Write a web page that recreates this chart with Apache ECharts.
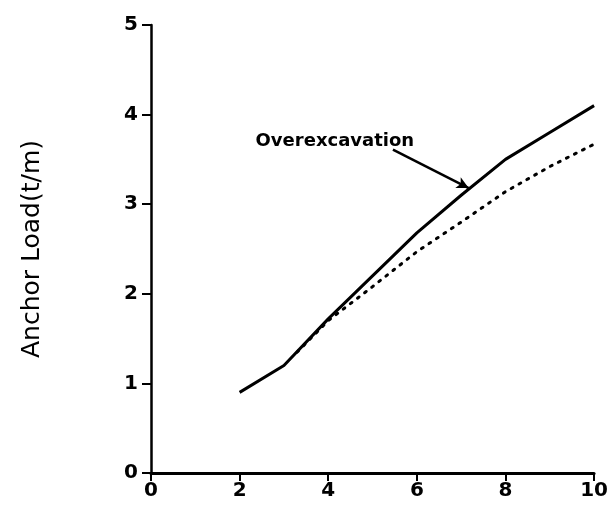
<!DOCTYPE html>
<html><head><meta charset="utf-8">
<script src="https://cdn.jsdelivr.net/npm/echarts@6/dist/echarts.min.js"></script>
<style>html,body{margin:0;padding:0;background:#fff}#c{width:611px;height:508px}</style>
</head><body><div id="c"></div>
<script>
const xTicks = [0, 2, 4, 6, 8, 10];
const yTicks = [0, 1, 2, 3, 4, 5];
const solidX = [2, 3, 4, 5, 6, 7, 8, 9, 10];
const solidY = [0.9, 1.2, 1.72, 2.2, 2.68, 3.1, 3.5, 3.8, 4.1];
const dottedX = [3.3, 4, 5, 6, 7, 8, 9, 10];
const dottedY = [1.35, 1.7, 2.08, 2.47, 2.8, 3.14, 3.42, 3.67];
const annotText = 'Overexcavation';
const annotTextPos = [2.36, 3.70];
const arrowStart = [5.46, 3.61];
const arrowEnd = [7.17, 3.18];
const yName = 'Anchor Load(t/m)';

const chart = echarts.init(document.getElementById('c'), null, {renderer: 'canvas'});
const fontFam = '"DejaVu Sans", sans-serif';
chart.setOption({
  animation: false,
  backgroundColor: '#fff',
  grid: {left: 151, right: 16, top: 25, bottom: 35},
  xAxis: {
    type: 'value', min: 0, max: 10, interval: 2,
    axisLine: {lineStyle: {color: '#000', width: 3}},
    axisTick: {show: true, length: 8, lineStyle: {color: '#000', width: 2}},
    axisLabel: {color: '#000', fontSize: 20, fontWeight: 'bold', fontFamily: fontFam, margin: 8},
    splitLine: {show: false}
  },
  yAxis: {
    type: 'value', min: 0, max: 5, interval: 1,
    name: yName, nameLocation: 'middle', nameRotate: 90, nameGap: 106,
    nameTextStyle: {color: '#000', fontSize: 25, fontFamily: fontFam},
    axisLine: {lineStyle: {color: '#000', width: 2.5}},
    axisTick: {show: true, length: 9, lineStyle: {color: '#000', width: 2}},
    axisLabel: {color: '#000', fontSize: 20, fontWeight: 'bold', fontFamily: fontFam, margin: 13},
    splitLine: {show: false}
  },
  series: [
    {
      type: 'line', showSymbol: false, symbol: 'none',
      data: solidX.map((x, i) => [x, solidY[i]]),
      lineStyle: {color: '#000', width: 3},
      markLine: {
        silent: true, symbol: ['none', 'arrow'], symbolSize: [9, 12],
        lineStyle: {color: '#000', width: 2.5, type: 'solid'},
        label: {show: false},
        data: [[{coord: arrowStart}, {coord: arrowEnd}]]
      }
    },
    {
      type: 'line', showSymbol: false, symbol: 'none',
      data: dottedX.map((x, i) => [x, dottedY[i]]),
      lineStyle: {color: '#000', width: 3, type: [2, 7], cap: 'round'}
    }
  ]
});
const p = chart.convertToPixel({gridIndex: 0}, annotTextPos);
chart.setOption({
  graphic: [{
    type: 'text', x: p[0], y: p[1], silent: true,
    style: {text: annotText, fill: '#000', fontSize: 18, fontWeight: 'bold',
      fontFamily: fontFam, textAlign: 'left', textVerticalAlign: 'middle'}
  }]
});
</script>
</body></html>
